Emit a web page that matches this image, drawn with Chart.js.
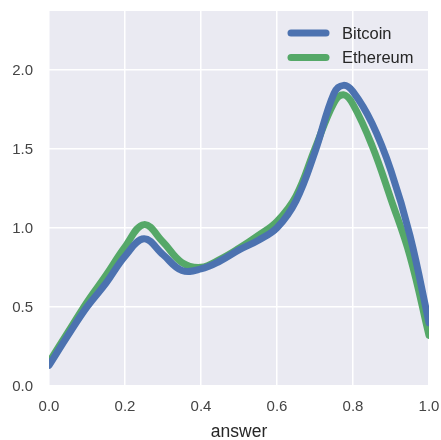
<!DOCTYPE html>
<html>
<head>
<meta charset="utf-8">
<script src="https://cdn.jsdelivr.net/npm/chart.js@4.4.0/dist/chart.umd.min.js"></script>
<style>
  html, body { margin: 0; padding: 0; background: #fff; }
  #wrap { width: 441px; height: 440px; }
</style>
</head>
<body>
<div id="wrap"><canvas id="kde"></canvas></div>
<script>
// values
const answerX = [0, 0.05, 0.1, 0.15, 0.2, 0.25, 0.3, 0.35, 0.4, 0.45, 0.5, 0.55, 0.6, 0.65, 0.7, 0.75, 0.775, 0.8, 0.85, 0.9, 0.95, 1.0];
const bitcoin = [0.13, 0.32, 0.50, 0.65, 0.82, 0.93, 0.83, 0.73, 0.74, 0.79, 0.86, 0.92, 1.00, 1.17, 1.48, 1.85, 1.90, 1.86, 1.66, 1.36, 0.95, 0.40];
const ethereum = [0.15, 0.34, 0.53, 0.70, 0.88, 1.02, 0.91, 0.78, 0.75, 0.80, 0.87, 0.95, 1.04, 1.20, 1.50, 1.79, 1.84, 1.78, 1.52, 1.18, 0.82, 0.32];
const xTicks = [0, 0.2, 0.4, 0.6, 0.8, 1.0];
const yTicks = [0, 0.5, 1.0, 1.5, 2.0];

const FONT = '"Liberation Sans", Arial, sans-serif';
const toPoints = (ys) => answerX.map((x, i) => ({ x: x, y: ys[i] }));

// seaborn-ish grey panel
const panelBg = {
    id: 'panelBg',
    beforeDraw(chart) {
        const a = chart.chartArea, ctx = chart.ctx;
        ctx.save();
        ctx.fillStyle = '#EAEAF2';
        ctx.fillRect(a.left, a.top, a.right - a.left, a.bottom - a.top);
        ctx.restore();
    }
};

// legend drawn inside the plot, top right
const innerLegend = {
    id: 'innerLegend',
    afterDraw(chart) {
        const ctx = chart.ctx;
        ctx.save();
        ctx.font = '16.5px ' + FONT;
        ctx.textBaseline = 'middle';
        chart.data.datasets.forEach((ds, i) => {
            const y = 33 + i * 24.5;
            ctx.strokeStyle = ds.borderColor;
            ctx.lineWidth = 7;
            ctx.lineCap = 'round';
            ctx.beginPath();
            ctx.moveTo(291, y);
            ctx.lineTo(326, y);
            ctx.stroke();
            ctx.fillStyle = '#262626';
            ctx.fillText(ds.label, 342, y + 1);
        });
        ctx.restore();
    }
};

// keep tick labels from pushing the plot area around
function noOverflow(scale) {
    scale.paddingTop = 0;
    scale.paddingBottom = 0;
    scale.paddingLeft = 0;
    scale.paddingRight = 0;
}

const lineStyle = {
    borderWidth: 7,
    pointRadius: 0,
    tension: 0.4,
    borderCapStyle: 'round',
    borderJoinStyle: 'round',
};

new Chart(document.getElementById('kde'), {
    type: 'line',
    data: {
        datasets: [
            { label: 'Bitcoin', data: toPoints(bitcoin), borderColor: '#4C72B0', ...lineStyle },
            { label: 'Ethereum', data: toPoints(ethereum), borderColor: '#55A868', ...lineStyle }
        ]
    },
    options: {
        responsive: true,
        maintainAspectRatio: false,
        animation: false,
        layout: { padding: { left: 0, right: 12, top: 11, bottom: 0 } },
        plugins: {
            legend: { display: false },
            tooltip: { enabled: false }
        },
        scales: {
            x: {
                type: 'linear',
                min: 0,
                max: 1,
                afterBuildTicks: (scale) => { scale.ticks = xTicks.map(v => ({ value: v })); },
                afterFit: (scale) => { scale.height = 54; noOverflow(scale); },
                grid: { color: '#ffffff', lineWidth: 1.5, drawTicks: false },
                border: { display: false },
                ticks: {
                    color: '#444',
                    padding: 12,
                    maxRotation: 0,
                    font: { family: FONT, size: 15 },
                    callback: (v) => v.toFixed(1)
                },
                title: {
                    display: true,
                    text: 'answer',
                    color: '#262626',
                    padding: { top: 4, bottom: -1 },
                    font: { family: FONT, size: 17.5, lineHeight: 1 }
                }
            },
            y: {
                min: 0,
                max: 2.37,
                afterBuildTicks: (scale) => { scale.ticks = yTicks.map(v => ({ value: v })); },
                afterFit: (scale) => { scale.width = 49; noOverflow(scale); },
                grid: { color: '#ffffff', lineWidth: 1.5, drawTicks: false },
                border: { display: false },
                ticks: {
                    color: '#444',
                    padding: 16,
                    labelOffset: 1,
                    font: { family: FONT, size: 15 },
                    callback: (v) => v.toFixed(1)
                }
            }
        }
    },
    plugins: [panelBg, innerLegend]
});
</script>
</body>
</html>
